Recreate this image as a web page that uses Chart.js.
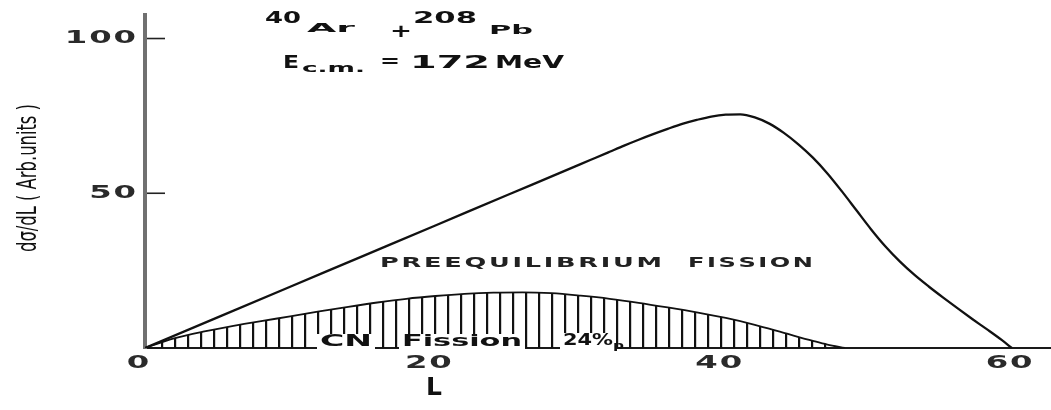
<!DOCTYPE html>
<html>
<head>
<meta charset="utf-8">
<script src="https://cdn.jsdelivr.net/npm/chart.js@4.4.1/dist/chart.umd.min.js"></script>
<style>
  html, body { margin: 0; padding: 0; background: #fff; }
  #wrap { width: 1051px; height: 410px; position: relative; }
</style>
</head>
<body>
<div id="wrap"><canvas id="c" width="1051" height="410"></canvas></div>
<script>
// Angular momentum L (x) and dσ/dL in arbitrary units (y)
const totalL     = [0, 5, 10, 15, 20, 25, 30, 31, 32, 33, 34, 35, 36, 37, 38, 39, 40, 41, 42, 43, 44, 45, 46, 47, 48, 49, 50, 51, 52, 53, 54, 55, 56, 57, 58, 59, 59.7];
const totalSigma = [0, 9.9, 19.8, 29.7, 39.6, 49.5, 59.4, 61.4, 63.4, 65.4, 67.3, 69.1, 70.8, 72.4, 73.7, 74.8, 75.4, 75.5, 74.5, 72.5, 69.5, 65.8, 61.5, 56.4, 50.6, 44.5, 38.4, 32.8, 27.9, 23.6, 19.8, 16.2, 12.7, 9.3, 6.0, 2.6, 0];

const cnL        = [0, 2, 4, 6, 8, 10, 12, 14, 16, 18, 20, 22, 24, 26, 28, 30, 32, 34, 36, 38, 40, 42, 44, 46, 47, 48.2];
const cnSigma    = [0, 3.1, 5.3, 7.1, 8.7, 10.2, 11.8, 13.3, 14.7, 15.9, 16.8, 17.5, 17.9, 18.0, 17.7, 16.9, 15.9, 14.6, 13.1, 11.5, 9.7, 7.5, 4.9, 2.3, 1.1, 0];

const xTickValues = [0, 20, 40, 60];
const yTickValues = [50, 100];

const xTitle = 'L';
const yTitle = 'dσ/dL ( Arb.units )';
const cnLabel = ['CN', 'Fission', '24%'];
const preLabel = ['PREEQUILIBRIUM', 'FISSION'];

const toPoints = (xs, ys) => xs.map((x, i) => ({ x, y: ys[i] }));

// vertical hatching used under the compound-nucleus curve
function hatchPattern(ctx) {
  const p = document.createElement('canvas');
  p.width = 13; p.height = 8;
  const pc = p.getContext('2d');
  pc.fillStyle = '#111';
  pc.fillRect(5, 0, 2.2, 8);
  return ctx.createPattern(p, 'repeat');
}

// draws text char by char, optionally squeezed / stretched to a given width
function drawText(ctx, text, x, y, o) {
  ctx.save();
  ctx.font = o.font;
  ctx.textBaseline = 'middle';
  ctx.textAlign = 'left';
  const chars = [...text];
  const sp = o.spacing || 0;
  const ws = chars.map(c => ctx.measureText(c).width);
  const nat = ws.reduce((a, b) => a + b, 0) + sp * (chars.length - 1);
  const sx = o.width ? o.width / nat : (o.stretch || 1);
  const total = nat * sx;
  const x0 = o.align === 'center' ? x - total / 2 : o.align === 'right' ? x - total : x;
  if (o.bg) {
    ctx.fillStyle = o.bg;
    ctx.fillRect(x0 - 3, y - o.bgH / 2, total + 6, o.bgH);
  }
  ctx.fillStyle = o.color || '#111';
  ctx.translate(x0, y);
  ctx.scale(sx, 1);
  let cx = 0;
  chars.forEach((c, i) => { ctx.fillText(c, cx, 0); cx += ws[i] + sp; });
  ctx.restore();
}

const FACE = '"DejaVu Sans", "Liberation Sans", sans-serif';

const decorations = {
  id: 'decorations',
  afterDraw(chart) {
    const { ctx, chartArea, scales } = chart;
    const xs = scales.x, ys = scales.y;

    // inward tick marks on the vertical axis
    ctx.save();
    ctx.strokeStyle = '#222';
    ctx.lineWidth = 1.6;
    yTickValues.forEach(v => {
      const py = ys.getPixelForValue(v);
      ctx.beginPath();
      ctx.moveTo(chartArea.left + 2, py);
      ctx.lineTo(chartArea.left + 20, py);
      ctx.stroke();
    });
    ctx.restore();

    // tick labels
    yTickValues.forEach(v => {
      drawText(ctx, String(v), chartArea.left - 9, ys.getPixelForValue(v),
        { font: 'bold 17px ' + FACE, stretch: 1.9, spacing: 1, align: 'right', color: '#2a2a2a' });
    });
    xTickValues.forEach(v => {
      drawText(ctx, String(v), xs.getPixelForValue(v) - 7, chartArea.bottom + 16,
        { font: 'bold 17px ' + FACE, stretch: 1.9, spacing: 1, align: 'center', color: '#2a2a2a' });
    });

    // axis titles
    drawText(ctx, xTitle, xs.getPixelForValue(19.9), chartArea.bottom + 40,
      { font: 'bold 25px ' + FACE, stretch: 1.0, align: 'center', color: '#111' });
    ctx.save();
    ctx.translate(29, 178);
    ctx.rotate(-Math.PI / 2);
    drawText(ctx, yTitle, 0, 0, { font: '27px ' + FACE, width: 148, align: 'center', color: '#111' });
    ctx.restore();

    // reaction and energy
    const sup = 'bold 15px ' + FACE, big = 'bold 17px ' + FACE, sub = 'bold 13px ' + FACE;
    drawText(ctx, '40', 265, 19, { font: sup, width: 36 });
    drawText(ctx, 'Ar', 307, 29, { font: sub, width: 48 });
    drawText(ctx, '+', 390, 32, { font: 'bold 18px ' + FACE, width: 22 });
    drawText(ctx, '208', 413, 19, { font: sup, width: 64 });
    drawText(ctx, 'Pb', 489, 31, { font: sub, width: 44 });
    drawText(ctx, 'E', 283, 64, { font: big, width: 16 });
    drawText(ctx, 'c.m.', 302, 69, { font: 'bold 12px ' + FACE, width: 63 });
    drawText(ctx, '=', 380, 63, { font: big, width: 20 });
    drawText(ctx, '172', 410, 64, { font: big, width: 80 });
    drawText(ctx, 'MeV', 495, 64, { font: big, width: 69 });

    // region labels
    drawText(ctx, preLabel[0], 380, 263, { font: 'bold 14px ' + FACE, width: 282, spacing: 1.5, color: '#222' });
    drawText(ctx, preLabel[1], 688, 263, { font: 'bold 14px ' + FACE, width: 125, spacing: 1.5, color: '#222' });

    const cnFont = 'bold 16px ' + FACE;
    drawText(ctx, cnLabel[0], 320, 342, { font: cnFont, width: 52, bg: '#fff', bgH: 16 });
    drawText(ctx, cnLabel[1], 402, 342, { font: cnFont, width: 120, bg: '#fff', bgH: 16 });
    drawText(ctx, cnLabel[2], 563, 341, { font: cnFont, width: 50, bg: '#fff', bgH: 16 });
    drawText(ctx, 'p', 613, 346, { font: 'bold 11px ' + FACE, width: 11 });
  }
};

const ctx = document.getElementById('c').getContext('2d');

new Chart(ctx, {
  type: 'line',
  data: {
    datasets: [
      {
        label: 'Preequilibrium fission',
        data: toPoints(totalL, totalSigma),
        borderColor: '#111',
        borderWidth: 2.3,
        pointRadius: 0,
        fill: false,
        cubicInterpolationMode: 'monotone'
      },
      {
        label: 'CN fission',
        data: toPoints(cnL, cnSigma),
        borderColor: '#111',
        borderWidth: 1.8,
        pointRadius: 0,
        fill: 'origin',
        backgroundColor: hatchPattern(ctx),
        cubicInterpolationMode: 'monotone'
      }
    ]
  },
  options: {
    responsive: false,
    animation: false,
    layout: { padding: { left: 137, top: 15, right: 0, bottom: 54 } },
    plugins: { legend: { display: false }, tooltip: { enabled: false } },
    scales: {
      x: {
        type: 'linear',
        min: 0,
        max: 62.4,
        grid: { display: false },
        ticks: { display: false },
        border: { display: true, color: '#1a1a1a', width: 2 }
      },
      y: {
        type: 'linear',
        min: 0,
        max: 107.6,
        grid: { display: false },
        ticks: { display: false },
        border: { display: true, color: '#707070', width: 4 }
      }
    }
  },
  plugins: [decorations]
});
</script>
</body>
</html>
